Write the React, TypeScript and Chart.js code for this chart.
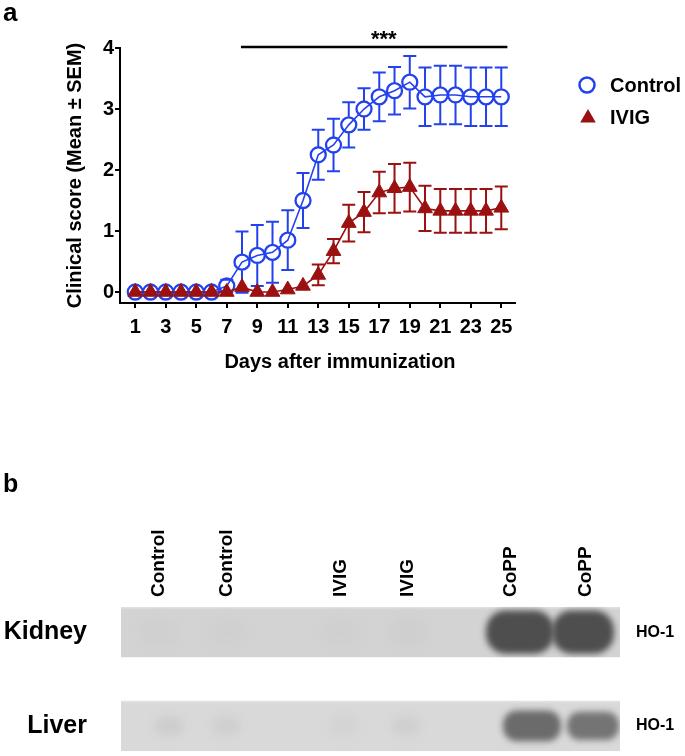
import React, { useEffect, useRef } from 'react';
import { Chart, registerables } from 'chart.js';

Chart.register(...registerables);

const FONT = "'Liberation Sans', Arial, Helvetica, sans-serif";
const BLUE = '#2342ee';
const RED = '#9b1010';

// ---------- panel a data ----------
const days = [1, 2, 3, 4, 5, 6, 7, 8, 9, 10, 11, 12, 13, 14, 15, 16, 17, 18, 19, 20, 21, 22, 23, 24, 25];
const controlMean = [0, 0, 0, 0, 0, 0, 0.1, 0.49, 0.6, 0.65, 0.85, 1.5, 2.25, 2.41, 2.74, 3.0, 3.2, 3.3, 3.44, 3.2, 3.23, 3.23, 3.2, 3.2, 3.2];
const controlSem = [0, 0, 0, 0, 0, 0, 0.1, 0.5, 0.5, 0.5, 0.49, 0.45, 0.41, 0.43, 0.37, 0.34, 0.4, 0.39, 0.43, 0.48, 0.48, 0.48, 0.48, 0.48, 0.48];
const ivigMean = [0, 0, 0, 0, 0, 0, 0, 0.08, 0, 0, 0.04, 0.1, 0.28, 0.67, 1.13, 1.31, 1.63, 1.7, 1.72, 1.37, 1.33, 1.33, 1.33, 1.33, 1.38];
const ivigSem = [0, 0, 0, 0, 0, 0, 0, 0, 0, 0, 0, 0, 0.17, 0.2, 0.3, 0.33, 0.34, 0.4, 0.4, 0.37, 0.36, 0.36, 0.36, 0.36, 0.35];
const xTicks = [1, 3, 5, 7, 9, 11, 13, 15, 17, 19, 21, 23, 25];
const yTicks = [0, 1, 2, 3, 4];
const seriesNames = ['Control', 'IVIG'];
const sigSpan = [7.93, 25.4];
const sigLevel = 4.0;
const sigLabel = '***';
const sigLabelDay = 17.3;
const xTitle = 'Days after immunization';
const yTitle = 'Clinical score (Mean ± SEM)';

// ---------- panel b data ----------
const laneNames = ['Control', 'Control', 'IVIG', 'IVIG', 'CoPP', 'CoPP'];
const lanePos = [3.8, 10.6, 22.0, 28.7, 39.0, 46.5];
const tissues = ['Kidney', 'Liver'];
const protein = 'HO-1';
const kidneyBand = [0.02, 0.02, 0.02, 0.03, 1.0, 1.0];
const liverBand = [0.09, 0.08, 0.05, 0.08, 0.85, 0.78];
const kidneyShift = [0, 0, 0, 0, 0.9, -0.3];
const liverShift = [1.0, -0.1, 0.3, -0.2, 2.1, 0.7];
const kidneyWidth = [4, 4, 4, 4, 6.8, 6.2];
const liverWidth = [2.8, 2.8, 2.8, 2.8, 5.8, 5.2];
const kidneyHeight = [0.3, 0.3, 0.3, 0.3, 0.46, 0.46];
const liverHeight = [0.2, 0.2, 0.2, 0.2, 0.33, 0.3];

const bold = (size: number) => ({ family: FONT, size, weight: 'bold' as const });

const errorBarPlugin = {
  id: 'errorBars',
  beforeDatasetsDraw(chart: any) {
    const { ctx } = chart;
    const xs = chart.scales.x;
    const ys = chart.scales.y;
    const cap = 6.5;
    chart.data.datasets.forEach((ds: any) => {
      const sem: number[] = ds.sem;
      if (!sem) return;
      ctx.save();
      ctx.strokeStyle = ds.borderColor;
      ctx.lineWidth = 2;
      ds.data.forEach((p: any, i: number) => {
        const e = sem[i];
        if (!e) return;
        const x = xs.getPixelForValue(p.x);
        const yc = ys.getPixelForValue(p.y);
        const yt = ys.getPixelForValue(p.y + e);
        const yb = ys.getPixelForValue(p.y - e);
        const gap = ds.barGap || 0;
        ctx.beginPath();
        if (yc - gap > yt) { ctx.moveTo(x, yc - gap); ctx.lineTo(x, yt); }
        if (yc + gap < yb) { ctx.moveTo(x, yc + gap); ctx.lineTo(x, yb); }
        ctx.moveTo(x - cap, yt); ctx.lineTo(x + cap, yt);
        ctx.moveTo(x - cap, yb); ctx.lineTo(x + cap, yb);
        ctx.stroke();
      });
      ctx.restore();
    });
  },
};

function drawTriangle(ctx: CanvasRenderingContext2D, x: number, y: number, r: number) {
  let rad = 0;
  ctx.beginPath();
  ctx.moveTo(x + Math.sin(rad) * r, y - Math.cos(rad) * r);
  rad += (2 * Math.PI) / 3;
  ctx.lineTo(x + Math.sin(rad) * r, y - Math.cos(rad) * r);
  rad += (2 * Math.PI) / 3;
  ctx.lineTo(x + Math.sin(rad) * r, y - Math.cos(rad) * r);
  ctx.closePath();
}

const decorPlugin = {
  id: 'decorA',
  afterDraw(chart: any) {
    const { ctx, chartArea } = chart;
    const xs = chart.scales.x;
    const ys = chart.scales.y;
    ctx.save();
    ctx.fillStyle = '#000';
    ctx.textAlign = 'left';
    ctx.textBaseline = 'alphabetic';
    ctx.font = `bold 26px ${FONT}`;
    ctx.fillText('a', 3, 21);

    // significance bar
    const sy = ys.getPixelForValue(sigLevel) - 1;
    ctx.strokeStyle = '#000';
    ctx.lineWidth = 2.5;
    ctx.beginPath();
    ctx.moveTo(xs.getPixelForValue(sigSpan[0]), sy);
    ctx.lineTo(xs.getPixelForValue(sigSpan[1]), sy);
    ctx.stroke();
    ctx.textAlign = 'center';
    ctx.font = `bold 22px ${FONT}`;
    ctx.fillText(sigLabel, xs.getPixelForValue(sigLabelDay), sy - 1);

    // x title
    ctx.font = `bold 20px ${FONT}`;
    ctx.textBaseline = 'middle';
    ctx.fillText(xTitle, chartArea.left + 220, chartArea.bottom + 59);

    // legend
    const ds = chart.data.datasets;
    const mx = chartArea.right + 72;
    const tx = chartArea.right + 95;
    const y1 = chartArea.top + 37;
    const y2 = chartArea.top + 69;
    ctx.strokeStyle = ds[0].borderColor;
    ctx.lineWidth = 2.5;
    ctx.beginPath();
    ctx.arc(mx, y1, 7.5, 0, Math.PI * 2);
    ctx.stroke();
    ctx.fillStyle = ds[1].borderColor;
    drawTriangle(ctx, mx + 1, y2 + 1, 9);
    ctx.fill();
    ctx.fillStyle = '#000';
    ctx.textAlign = 'left';
    ctx.font = `bold 20px ${FONT}`;
    ctx.fillText(ds[0].label, tx, y1 + 1);
    ctx.fillText(ds[1].label, tx, y2 + 1);
    ctx.restore();
  },
};

const blotPlugin = {
  id: 'blot',
  beforeDatasetsDraw(chart: any) {
    const { ctx } = chart;
    const xs = chart.scales.x;
    const ys = chart.scales.y;
    const half = 0.27;
    chart.data.datasets.forEach((ds: any) => {
      const r = ds.row;
      const yc = ys.getPixelForValue(r);
      const yA = ys.getPixelForValue(r - half);
      const yB = ys.getPixelForValue(r + half);
      const top = Math.min(yA, yB);
      const h = Math.abs(yB - yA);
      const x0 = xs.left;
      const x1 = xs.right;
      ctx.save();
      ctx.beginPath();
      ctx.rect(x0, top, x1 - x0, h);
      ctx.clip();
      const grad = ctx.createLinearGradient(0, top, 0, top + h);
      grad.addColorStop(0, ds.membraneEdge);
      grad.addColorStop(0.06, ds.membrane);
      grad.addColorStop(1, ds.membrane);
      ctx.fillStyle = grad;
      ctx.fillRect(x0, top, x1 - x0, h);
      ds.data.forEach((p: any) => {
        const cx = xs.getPixelForValue(p.x);
        const w = Math.abs(xs.getPixelForValue(p.x + p.w / 2) - xs.getPixelForValue(p.x - p.w / 2));
        const bh = Math.abs(ys.getPixelForValue(r + p.h / 2) - ys.getPixelForValue(r - p.h / 2));
        const g = Math.round(ds.base - p.v * (ds.base - ds.peak));
        ctx.filter = `blur(${p.v > 0.5 ? 3 : 4}px)`;
        ctx.fillStyle = `rgb(${g},${g},${g})`;
        ctx.beginPath();
        ctx.roundRect(cx - w / 2, yc - bh / 2, w, bh, Math.min(w, bh) / 2.2);
        ctx.fill();
      });
      ctx.restore();
    });
    ctx.save();
    ctx.fillStyle = '#000';
    ctx.font = `bold 25px ${FONT}`;
    ctx.textAlign = 'left';
    ctx.textBaseline = 'alphabetic';
    ctx.fillText('b', 3, 92);
    ctx.restore();
  },
};

export default function App() {
  const ref1 = useRef<HTMLCanvasElement>(null);
  const ref2 = useRef<HTMLCanvasElement>(null);

  useEffect(() => {
    Chart.defaults.color = '#000';
    Chart.defaults.font.family = FONT;

    const c1 = new Chart(ref1.current as HTMLCanvasElement, {
      type: 'line',
      data: {
        datasets: [
          {
            label: seriesNames[0],
            data: days.map((d, i) => ({ x: d, y: controlMean[i] })),
            sem: controlSem,
            barGap: 8,
            borderColor: BLUE,
            backgroundColor: 'rgba(0,0,0,0)',
            borderWidth: 1.6,
            pointStyle: 'circle',
            pointRadius: 7.5,
            pointBorderWidth: 2.3,
            pointBackgroundColor: 'rgba(0,0,0,0)',
            pointBorderColor: BLUE,
            tension: 0,
            order: 2,
          } as any,
          {
            label: seriesNames[1],
            data: days.map((d, i) => ({ x: d, y: ivigMean[i] })),
            sem: ivigSem,
            barGap: 0,
            borderColor: RED,
            backgroundColor: RED,
            borderWidth: 1.6,
            pointStyle: 'triangle',
            pointRadius: 8.5,
            pointBorderWidth: 1,
            pointBackgroundColor: RED,
            pointBorderColor: RED,
            tension: 0,
            order: 1,
          } as any,
        ],
      },
      options: {
        responsive: false,
        animation: false,
        events: [],
        layout: { padding: { top: 48, right: 170, left: 0, bottom: 0 } },
        plugins: { legend: { display: false }, tooltip: { enabled: false } },
        scales: {
          x: {
            type: 'linear',
            min: 0,
            max: 25.9,
            afterBuildTicks: (ax: any) => { ax.ticks = xTicks.map((v) => ({ value: v })); },
            afterFit: (s: any) => { s.height = 97; },
            grid: { display: true, drawOnChartArea: false, drawTicks: true, tickLength: 5, color: '#000', lineWidth: 2 },
            border: { display: true, color: '#000', width: 2 },
            ticks: { color: '#000', font: bold(20), padding: 7.5, autoSkip: false, maxRotation: 0 },
          },
          y: {
            type: 'linear',
            min: -0.18,
            max: 4,
            afterBuildTicks: (ax: any) => { ax.ticks = yTicks.map((v) => ({ value: v })); },
            afterFit: (s: any) => { s.width = 120; },
            grid: { display: true, drawOnChartArea: false, drawTicks: true, tickLength: 5, color: '#000', lineWidth: 2 },
            border: { display: true, color: '#000', width: 2 },
            ticks: { color: '#000', font: bold(20), padding: 1 },
            title: { display: true, text: yTitle, color: '#000', font: bold(20), padding: { top: 63, bottom: 0 } },
          },
        },
      },
      plugins: [errorBarPlugin, decorPlugin],
    } as any);

    const bands = [kidneyBand, liverBand];
    const shifts = [kidneyShift, liverShift];
    const widths = [kidneyWidth, liverWidth];
    const heights = [kidneyHeight, liverHeight];
    const membranes = ['#d3d3d3', '#d9d9d9'];
    const peaks = [78, 88];

    const c2 = new Chart(ref2.current as HTMLCanvasElement, {
      type: 'scatter',
      data: {
        datasets: tissues.map((t, r) => ({
          label: t,
          row: r,
          membrane: membranes[r],
          membraneEdge: '#e4e4e4',
          base: r === 0 ? 211 : 217,
          peak: peaks[r],
          data: laneNames.map((_, i) => ({
            x: lanePos[i] + shifts[r][i],
            y: r,
            v: bands[r][i],
            w: widths[r][i],
            h: heights[r][i],
          })),
          pointRadius: 0,
          showLine: false,
        })) as any,
      },
      options: {
        responsive: false,
        animation: false,
        events: [],
        layout: { padding: { left: 0, right: 0, top: 0, bottom: 2 } },
        plugins: { legend: { display: false }, tooltip: { enabled: false } },
        scales: {
          x: {
            type: 'linear',
            position: 'top',
            min: 0,
            max: 49.9,
            afterBuildTicks: (ax: any) => { ax.ticks = lanePos.map((v) => ({ value: v })); },
            afterFit: (s: any) => { s.height = 204; s.paddingLeft = 0; s.paddingRight = 0; },
            grid: { display: false, drawTicks: false },
            border: { display: false },
            ticks: {
              autoSkip: false,
              minRotation: 90,
              maxRotation: 90,
              padding: 7,
              labelOffset: 23,
              color: '#000',
              font: bold(19),
              callback: (_v: any, i: number) => laneNames[i],
            },
          },
          y: {
            type: 'linear',
            position: 'left',
            min: -0.3,
            max: 1.3,
            reverse: true,
            afterBuildTicks: (ax: any) => { ax.ticks = tissues.map((_, i) => ({ value: i })); },
            afterFit: (s: any) => { s.width = 121; s.paddingTop = 0; s.paddingBottom = 0; },
            grid: { display: false, drawTicks: false },
            border: { display: false },
            ticks: { padding: 34, color: '#000', font: bold(25), callback: (v: any) => tissues[v] },
          },
          y2: {
            type: 'linear',
            position: 'right',
            min: -0.3,
            max: 1.3,
            reverse: true,
            afterBuildTicks: (ax: any) => { ax.ticks = tissues.map((_, i) => ({ value: i })); },
            afterFit: (s: any) => { s.width = 65; s.paddingTop = 0; s.paddingBottom = 0; },
            grid: { display: false, drawTicks: false },
            border: { display: false },
            ticks: { padding: 16, color: '#000', font: bold(16), callback: () => protein },
          },
        },
      },
      plugins: [blotPlugin],
    } as any);

    return () => {
      c1.destroy();
      c2.destroy();
    };
  }, []);

  return (
    <div style={{ position: 'absolute', left: 0, top: 0, width: 685, height: 756, background: '#fff', overflow: 'hidden' }}>
      <canvas ref={ref1} width={685} height={400} style={{ position: 'absolute', left: 0, top: 0, display: 'block' }} />
      <canvas ref={ref2} width={685} height={356} style={{ position: 'absolute', left: 0, top: 400, display: 'block' }} />
    </div>
  );
}
